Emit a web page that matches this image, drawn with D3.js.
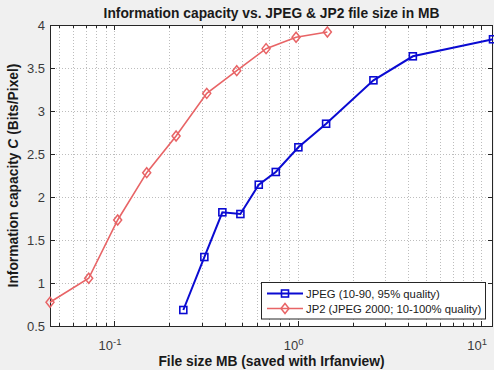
<!DOCTYPE html>
<html><head><meta charset="utf-8">
<script src="https://cdn.jsdelivr.net/npm/d3@7"></script>
<style>body{margin:0;background:#f0f0f0;} svg{display:block;font-family:"Liberation Sans",Arial,sans-serif;}</style>
</head><body>
<svg id="c" width="494" height="370"></svg>
<script>
const jpegX = [0.2385, 0.3105, 0.3892, 0.488, 0.6144, 0.7605, 1.01, 1.43, 2.589, 4.244, 11.6];
const jpegY = [0.686, 1.302, 1.822, 1.802, 2.143, 2.291, 2.578, 2.852, 3.357, 3.636, 3.834];
const jp2X = [0.0448, 0.0728, 0.1047, 0.1507, 0.2178, 0.320, 0.4662, 0.6734, 0.981, 1.453];
const jp2Y = [0.776, 1.055, 1.733, 2.283, 2.709, 3.205, 3.469, 3.725, 3.857, 3.919];
const yTicks = [0.5, 1, 1.5, 2, 2.5, 3, 3.5, 4];
const xTicks = [0.1, 1, 10];
const xTickExp = ["-1", "0", "1"];
const seriesNames = ["JPEG (10-90, 95% quality)", "JP2 (JPEG 2000; 10-100% quality)"];
const titleText = "Information capacity vs. JPEG & JP2 file size in MB";
const xLabelText = "File size MB (saved with Irfanview)";

const svg = d3.select("#c");
const L = 50, R = 493, T = 25, B = 326;
const allX = jpegX.concat(jp2X);
const x = d3.scaleLog().domain(d3.extent(allX)).range([L, R]);
const y = d3.scaleLinear().domain([0.5, 4]).range([B, T]);

svg.append("rect").attr("x", L).attr("y", T).attr("width", R - L).attr("height", B - T).attr("fill", "#fff");

const minor = [];
for (let e = -2; e <= 1; e++) for (let k = 1; k <= 9; k++) {
  const v = k * Math.pow(10, e);
  if (v >= x.domain()[0] && v <= x.domain()[1]) minor.push(v);
}
const grid = svg.append("g").attr("stroke", "#bdbdbd").attr("stroke-width", 1).attr("stroke-dasharray", "1,2");
grid.selectAll("line.vx").data(minor).enter().append("line")
  .attr("x1", d => Math.round(x(d)) + 0.5).attr("x2", d => Math.round(x(d)) + 0.5).attr("y1", T).attr("y2", B);
grid.selectAll("line.hy").data(yTicks.slice(1, -1)).enter().append("line")
  .attr("y1", d => Math.round(y(d)) + 0.5).attr("y2", d => Math.round(y(d)) + 0.5).attr("x1", L).attr("x2", R);

const tk = svg.append("g").attr("stroke", "#262626").attr("stroke-width", 1);
minor.forEach(v => {
  const isMajor = xTicks.some(t => Math.abs(t - v) < 1e-9);
  const len = isMajor ? 5 : 3;
  const px = Math.round(x(v)) + 0.5;
  tk.append("line").attr("x1", px).attr("x2", px).attr("y1", B).attr("y2", B - len);
  tk.append("line").attr("x1", px).attr("x2", px).attr("y1", T).attr("y2", T + len);
});
yTicks.forEach(v => {
  const py = Math.round(y(v)) + 0.5;
  tk.append("line").attr("x1", L).attr("x2", L + 5).attr("y1", py).attr("y2", py);
  tk.append("line").attr("x1", R).attr("x2", R - 5).attr("y1", py).attr("y2", py);
});
svg.append("rect").attr("x", L + 0.5).attr("y", T + 0.5).attr("width", R - L - 1).attr("height", B - T)
  .attr("fill", "none").attr("stroke", "#262626").attr("stroke-width", 1);

svg.append("g").selectAll("text").data(yTicks).enter().append("text")
  .attr("x", L - 5).attr("y", d => y(d) + 4.5).attr("text-anchor", "end")
  .attr("font-size", 13).attr("fill", "#3a3a3a").text(d => d);
xTicks.forEach((v, i) => {
  const t = svg.append("text").attr("x", x(v) - 4).attr("y", 350).attr("text-anchor", "middle")
    .attr("font-size", 13).attr("fill", "#3a3a3a");
  t.append("tspan").text("10");
  t.append("tspan").attr("dy", -5).attr("font-size", 9.5).text(xTickExp[i]);
});

svg.append("text").attr("x", (L + R) / 2).attr("y", 18).attr("text-anchor", "middle")
  .attr("font-size", 13.8).attr("font-weight", "bold").attr("fill", "#1a1a1a").text(titleText);
svg.append("text").attr("x", (L + R) / 2).attr("y", 366).attr("text-anchor", "middle")
  .attr("font-size", 13.8).attr("font-weight", "bold").attr("fill", "#1a1a1a").text(xLabelText);
const yl = svg.append("text").attr("transform", `translate(18,${(T + B) / 2}) rotate(-90)`)
  .attr("text-anchor", "middle").attr("font-size", 13.8).attr("font-weight", "bold").attr("fill", "#1a1a1a");
yl.append("tspan").text("Information capacity ");
yl.append("tspan").attr("font-style", "italic").text("C");
yl.append("tspan").text(" (Bits/Pixel)");

const blue = "#0a0ad2", red = "#e86466";
const line = d3.line().x(d => x(d[0])).y(d => y(d[1]));
const jpeg = jpegX.map((v, i) => [v, jpegY[i]]);
const jp2 = jp2X.map((v, i) => [v, jp2Y[i]]);
svg.append("path").datum(jp2).attr("d", line).attr("fill", "none").attr("stroke", red).attr("stroke-width", 1.6);
svg.append("path").datum(jpeg).attr("d", line).attr("fill", "none").attr("stroke", blue).attr("stroke-width", 2);
const diamond = (cx, cy) => `M${cx},${cy - 5}L${cx + 4},${cy}L${cx},${cy + 5}L${cx - 4},${cy}Z`;
svg.append("g").selectAll("path").data(jp2).enter().append("path")
  .attr("d", d => diamond(x(d[0]), y(d[1]))).attr("fill", "none").attr("stroke", red).attr("stroke-width", 1.5);
svg.append("g").selectAll("rect").data(jpeg).enter().append("rect")
  .attr("x", d => x(d[0]) - 3.5).attr("y", d => y(d[1]) - 3.5).attr("width", 7).attr("height", 7)
  .attr("fill", "none").attr("stroke", blue).attr("stroke-width", 1.6);

const lg = svg.append("g");
lg.append("rect").attr("x", 261.5).attr("y", 282.5).attr("width", 224).attr("height", 36.5)
  .attr("fill", "#fff").attr("stroke", "#262626").attr("stroke-width", 1);
[[blue, 293.5, "sq"], [red, 308.5, "di"]].forEach((s, i) => {
  lg.append("line").attr("x1", 267).attr("x2", 303).attr("y1", s[1]).attr("y2", s[1])
    .attr("stroke", s[0]).attr("stroke-width", i === 0 ? 2 : 1.6);
  if (s[2] === "sq") lg.append("rect").attr("x", 281.5).attr("y", s[1] - 3.5).attr("width", 7).attr("height", 7)
    .attr("fill", "none").attr("stroke", s[0]).attr("stroke-width", 1.6);
  else lg.append("path").attr("d", diamond(285, s[1])).attr("fill", "none").attr("stroke", s[0]).attr("stroke-width", 1.5);
  lg.append("text").attr("x", 306).attr("y", s[1] + 4).attr("font-size", 11.3).attr("fill", "#1a1a1a").text(seriesNames[i]);
});
</script>
</body></html>
